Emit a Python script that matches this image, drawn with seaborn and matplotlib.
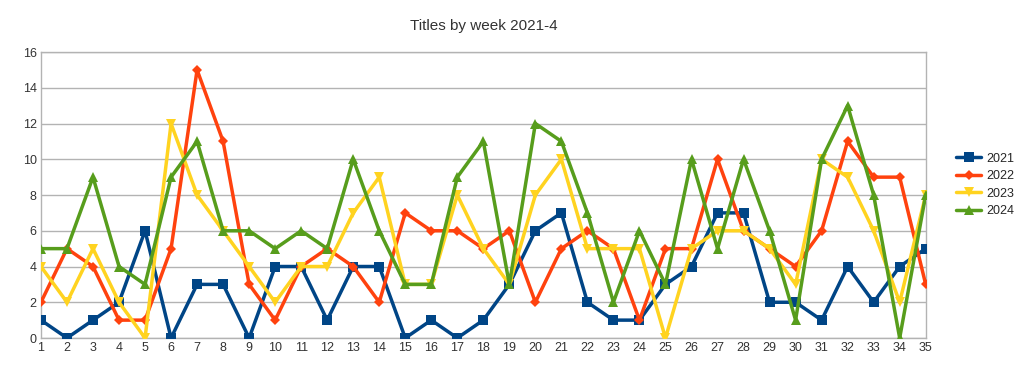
import numpy as np
import pandas as pd
import matplotlib
matplotlib.use("Agg")
import matplotlib.pyplot as plt
import seaborn as sns

weeks = list(range(1, 36))
y2021 = [1, 0, 1, 2, 6, 0, 3, 3, 0, 4, 4, 1, 4, 4, 0, 1, 0, 1, 3, 6, 7, 2, 1, 1, 3, 4, 7, 7, 2, 2, 1, 4, 2, 4, 5]
y2022 = [2, 5, 4, 1, 1, 5, 15, 11, 3, 1, 4, 5, 4, 2, 7, 6, 6, 5, 6, 2, 5, 6, 5, 1, 5, 5, 10, 6, 5, 4, 6, 11, 9, 9, 3]
y2023 = [4, 2, 5, 2, 0, 12, 8, 6, 4, 2, 4, 4, 7, 9, 3, 3, 8, 5, 3, 8, 10, 5, 5, 5, 0, 5, 6, 6, 5, 3, 10, 9, 6, 2, 8]
y2024 = [5, 5, 9, 4, 3, 9, 11, 6, 6, 5, 6, 5, 10, 6, 3, 3, 9, 11, 3, 12, 11, 7, 2, 6, 3, 10, 5, 10, 6, 1, 10, 13, 8, 0, 8]

series = {"2021": y2021, "2022": y2022, "2023": y2023, "2024": y2024}
df = pd.concat([pd.DataFrame({"week": weeks, "titles": v, "year": k}) for k, v in series.items()])

palette = {"2021": "#004586", "2022": "#ff420e", "2023": "#ffd320", "2024": "#579d1c"}
markers = {"2021": "s", "2022": "D", "2023": "v", "2024": "^"}

sns.set_style("white")
plt.rcParams["font.family"] = ["Liberation Sans", "DejaVu Sans"]

fig = plt.figure(figsize=(10.24, 3.69), dpi=100)
ax = fig.add_axes([0.040, 0.084, 0.864, 0.775])

sns.lineplot(data=df, x="week", y="titles", hue="year", style="year",
             palette=palette, markers=markers, dashes=False,
             linewidth=2.5, markersize=7.5, markeredgewidth=0, ax=ax, zorder=3)

# diamonds look smaller than the other markers in the original
for ln in ax.lines:
    if ln.get_marker() == "D":
        ln.set_markersize(5.5)

ax.set_xlim(1, 35)
ax.set_ylim(0, 16)
ax.set_xticks(weeks)
ax.set_yticks(range(0, 17, 2))
ax.tick_params(axis="both", labelsize=9, colors="#333333", length=0, pad=3)
ax.grid(axis="y", color="#b3b3b3", linewidth=1)
ax.set_axisbelow(True)
for s in ax.spines.values():
    s.set_color("#b3b3b3")
    s.set_linewidth(1)
ax.set_xlabel("")
ax.set_ylabel("")
ax.set_title("Titles by week 2021-4", fontsize=11, color="#333333", pad=16)

leg = ax.legend(loc="center left", bbox_to_anchor=(1.022, 0.535), frameon=False,
                fontsize=9, handlelength=2.0, handletextpad=0.4,
                labelspacing=0.45, borderaxespad=0.5)
for h in leg.legend_handles:
    if h.get_marker() == "D":
        h.set_markersize(5.5)

fig.savefig("out.png", dpi=100)
